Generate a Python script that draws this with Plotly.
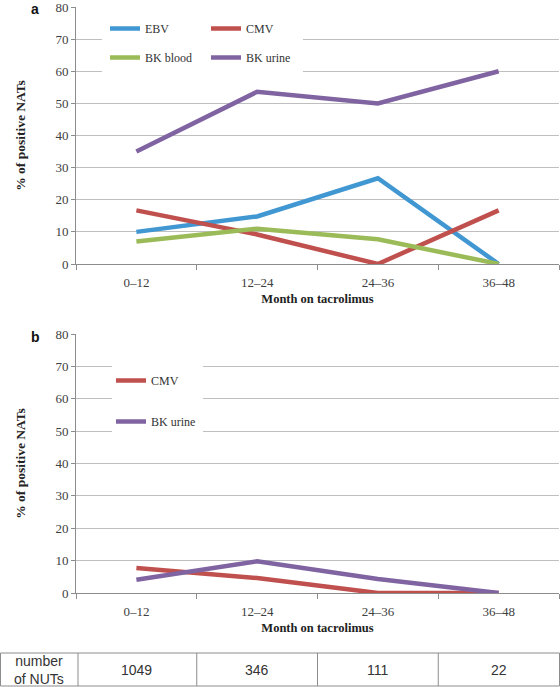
import plotly.graph_objects as go

# ---------------- data ----------------
months = ["0\u201312", "12\u201324", "24\u201336", "36\u201348"]
ebv_a = [10.0, 14.8, 26.7, 0.0]
cmv_a = [16.7, 9.2, 0.0, 16.7]
bkblood_a = [7.0, 11.0, 7.7, 0.0]
bkurine_a = [35.0, 53.6, 50.0, 60.0]
cmv_b = [7.7, 4.6, 0.0, 0.0]
bkurine_b = [4.1, 9.8, 4.3, 0.0]
nuts = [1049, 346, 111, 22]
y_ticks = [0, 10, 20, 30, 40, 50, 60, 70, 80]

# ---------------- styling ----------------
W, H = 560, 687
A_TOP, A_BOT = 7, 264
B_TOP, B_BOT = 334, 593
ML, MR, MT, MB = 76, 1, A_TOP, H - B_BOT
PW = W - ML - MR
PH = H - MT - MB
CAT_PX = PW / 4.0


def px_x(p):
    return (p - ML) / PW


def px_y(p):
    return (H - MB - p) / PH


def cat_x(p):
    return -0.5 + (p - ML) / CAT_PX


def val_a(p):
    return 80.0 * (A_BOT - p) / (A_BOT - A_TOP)


def val_b(p):
    return 80.0 * (B_BOT - p) / (B_BOT - B_TOP)


C_EBV = "#4197d2"
C_CMV = "#c0504d"
C_BKB = "#9bbb59"
C_BKU = "#8064a2"
LW = 4.5
SERIF = "Liberation Serif"
SANS = "Liberation Sans"
GRID = "#bfbfbf"
AXIS = "#8c8c8c"
TXT = "#404040"

fig = go.Figure()


def add(x, y, name, color, xa, ya, legend, group):
    fig.add_trace(go.Scatter(
        x=x, y=y, name=name, mode="lines",
        line=dict(color=color, width=LW),
        xaxis=xa, yaxis=ya, legend=legend, legendgroup=group,
        hoverinfo="x+y+name",
    ))


add(months, ebv_a, "EBV", C_EBV, "x", "y", "legend", "a1")
add(months, cmv_a, "CMV", C_CMV, "x", "y", "legend3", "a2")
add(months, bkblood_a, "BK blood", C_BKB, "x", "y", "legend", "a3")
add(months, bkurine_a, "BK urine", C_BKU, "x", "y", "legend3", "a4")
add(months, cmv_b, "CMV", C_CMV, "x2", "y2", "legend2", "b1")
add(months, bkurine_b, "BK urine", C_BKU, "x2", "y2", "legend2", "b2")

dom_a = [px_y(A_BOT), 1.0]
dom_b = [0.0, px_y(B_TOP)]

xcommon = dict(
    type="category", categoryorder="array", categoryarray=months,
    range=[-0.5, 3.5], showgrid=False, showline=True, linecolor=AXIS,
    linewidth=1, ticks="outside", tickson="boundaries", ticklen=5,
    tickcolor=AXIS, tickfont=dict(family=SERIF, size=13, color=TXT),
    zeroline=False, ticklabelstandoff=6,
    title=dict(text="<b>Month on tacrolimus</b>",
               font=dict(family=SERIF, size=12.5, color="#222"), standoff=5),
)
ycommon = dict(
    range=[0, 80], tickvals=y_ticks, showgrid=True, gridcolor=GRID,
    gridwidth=1, showline=True, linecolor=AXIS, linewidth=1,
    ticks="outside", ticklen=4, tickcolor=AXIS, zeroline=False,
    ticklabeloverflow="allow",
    tickfont=dict(family=SERIF, size=13, color=TXT),
    title=dict(text="<b>% of positive NATs</b>",
               font=dict(family=SERIF, size=13.5, color="#222"), standoff=26),
)

legfont = dict(family=SERIF, size=12, color="#333")
legcommon = dict(
    orientation="v", bgcolor="rgba(255,255,255,0)", borderwidth=0,
    font=legfont, traceorder="grouped", xanchor="left", yanchor="top",
    itemwidth=30,
)

fig.update_layout(
    width=W, height=H,
    margin=dict(l=ML, r=MR, t=MT, b=MB, autoexpand=False),
    paper_bgcolor="white", plot_bgcolor="white",
    xaxis=dict(xcommon, domain=[0, 1], anchor="y"),
    yaxis=dict(ycommon, domain=dom_a, anchor="x"),
    xaxis2=dict(xcommon, domain=[0, 1], anchor="y2"),
    yaxis2=dict(ycommon, domain=dom_b, anchor="x2"),
    legend=dict(legcommon, x=px_x(105), y=px_y(14), tracegroupgap=10),
    legend3=dict(legcommon, x=px_x(206), y=px_y(14), tracegroupgap=10),
    legend2=dict(legcommon, x=px_x(111), y=px_y(366), tracegroupgap=22),
    showlegend=True,
)

# white legend boxes that interrupt the gridlines (drawn between grid and traces)
fig.add_shape(type="rect", xref="x", yref="y",
              x0=cat_x(102), x1=cat_x(303), y0=val_a(92), y1=val_a(14),
              fillcolor="white", line=dict(width=0), layer="between")
fig.add_shape(type="rect", xref="x2", yref="y2",
              x0=cat_x(112), x1=cat_x(203), y0=val_b(447), y1=val_b(345),
              fillcolor="white", line=dict(width=0), layer="between")

# panel labels
fig.add_annotation(text="<b>a</b>", xref="paper", yref="paper",
                   x=px_x(35), y=px_y(9), xanchor="center", yanchor="middle",
                   showarrow=False, font=dict(family=SANS, size=14, color="#111"))
fig.add_annotation(text="<b>b</b>", xref="paper", yref="paper",
                   x=px_x(35), y=px_y(337), xanchor="center", yanchor="middle",
                   showarrow=False, font=dict(family=SANS, size=14, color="#111"))

# table of number of NUTs
t_top, t_bot = px_y(653), px_y(686)
border = dict(color="#8c8c8c", width=1)
fig.add_shape(type="rect", xref="paper", yref="paper",
              x0=px_x(0.5), x1=px_x(559.5), y0=t_bot, y1=t_top, line=border)
fig.add_shape(type="line", xref="paper", yref="paper",
              x0=px_x(78), x1=px_x(78), y0=t_bot, y1=t_top, line=border)
for i in range(len(months) - 1):
    fig.add_shape(type="line", xref="x2", yref="paper",
                  x0=i + 0.5, x1=i + 0.5, y0=t_bot, y1=t_top, line=border)
fig.add_annotation(text="number<br>of NUTs", xref="paper", yref="paper",
                   x=px_x(39), y=(t_top + t_bot) / 2, xanchor="center",
                   yanchor="middle", showarrow=False,
                   font=dict(family=SANS, size=14, color="#333"))
for i, n in enumerate(nuts):
    fig.add_annotation(text=str(n), xref="x2", yref="paper",
                       x=i, y=(t_top + t_bot) / 2, xanchor="center",
                       yanchor="middle", showarrow=False,
                       font=dict(family=SANS, size=14, color="#333"))

fig.write_html("out.html", config={"displayModeBar": False},
               post_script="document.body.style.margin='0';")
